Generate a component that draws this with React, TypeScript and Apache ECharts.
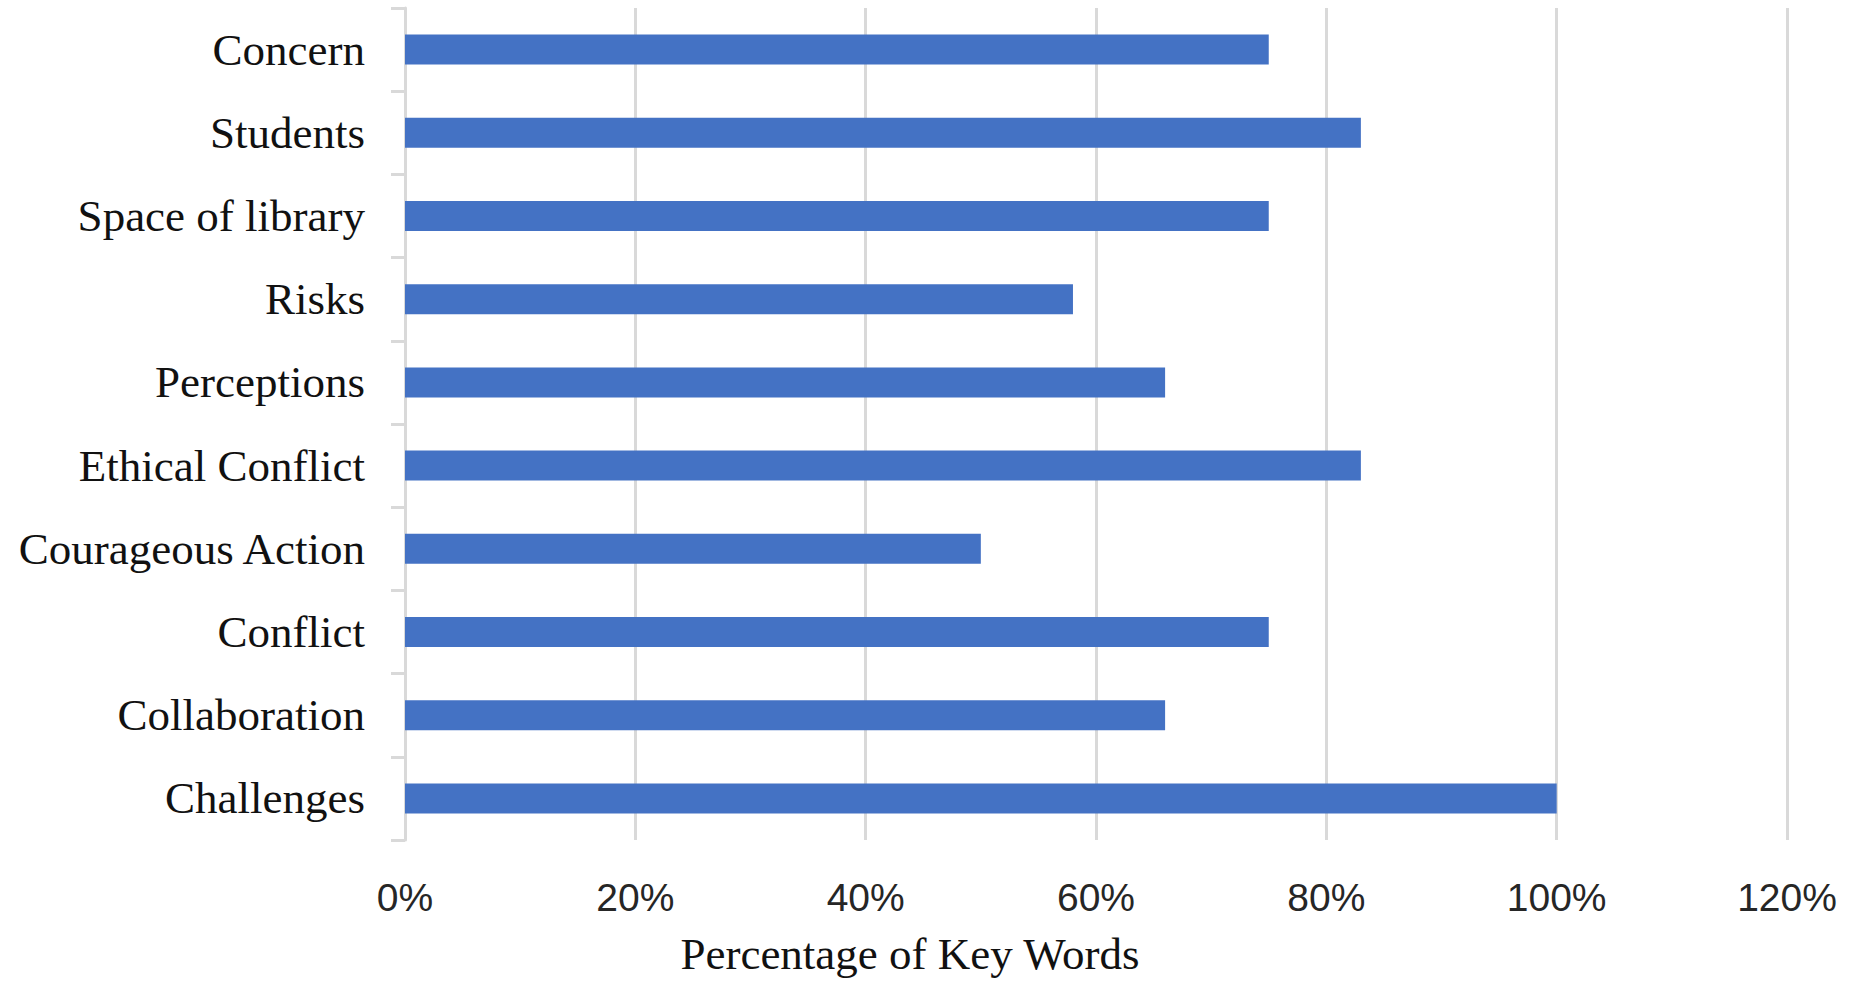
import React, { useEffect, useRef } from "react";
import * as echarts from "echarts";

const categories = [
  "Concern",
  "Students",
  "Space of library",
  "Risks",
  "Perceptions",
  "Ethical Conflict",
  "Courageous Action",
  "Conflict",
  "Collaboration",
  "Challenges",
];
const values = [75, 83, 75, 58, 66, 83, 50, 75, 66, 100];
const axisTitle = "Percentage of Key Words";
const xMin = 0;
const xMax = 120;
const xStep = 20;

export default function App() {
  const ref = useRef<HTMLDivElement>(null);
  useEffect(() => {
    if (!ref.current) return;
    const chart = echarts.init(ref.current, null, { renderer: "svg" });
    chart.setOption({
      animation: false,
      backgroundColor: "#ffffff",
      grid: { left: 405, right: 65, top: 8, bottom: 141, containLabel: false },
      xAxis: {
        type: "value",
        min: xMin,
        max: xMax,
        interval: xStep,
        axisLine: { show: false },
        axisTick: { show: false },
        splitLine: { show: true, lineStyle: { color: "#d9d9d9", width: 3 } },
        axisLabel: {
          formatter: "{value}%",
          margin: 38,
          fontSize: 39,
          fontFamily: "'Liberation Sans Narrow', 'Liberation Sans', sans-serif",
          color: "#262626",
        },
      },
      yAxis: {
        type: "category",
        data: categories,
        inverse: true,
        axisLine: { show: true, lineStyle: { color: "#d9d9d9", width: 3 } },
        axisTick: { show: true, length: 14, lineStyle: { color: "#d9d9d9", width: 3 } },
        splitLine: { show: false },
        axisLabel: {
          margin: 40,
          fontSize: 45,
          fontFamily: "'Liberation Serif', 'Times New Roman', serif",
          color: "#111111",
        },
      },
      graphic: [
        {
          type: "text",
          x: 910,
          y: 954,
          style: {
            text: axisTitle,
            fontSize: 45,
            fontFamily: "'Liberation Serif', 'Times New Roman', serif",
            fill: "#111111",
            textAlign: "center",
            textVerticalAlign: "middle",
          },
        },
      ],
      series: [
        {
          type: "bar",
          data: values,
          barWidth: 30,
          itemStyle: { color: "#4472C4" },
        },
      ],
    });
    return () => chart.dispose();
  }, []);
  return (
    <div
      ref={ref}
      style={{ position: "fixed", left: 0, top: 0, width: 1852, height: 981 }}
    />
  );
}
